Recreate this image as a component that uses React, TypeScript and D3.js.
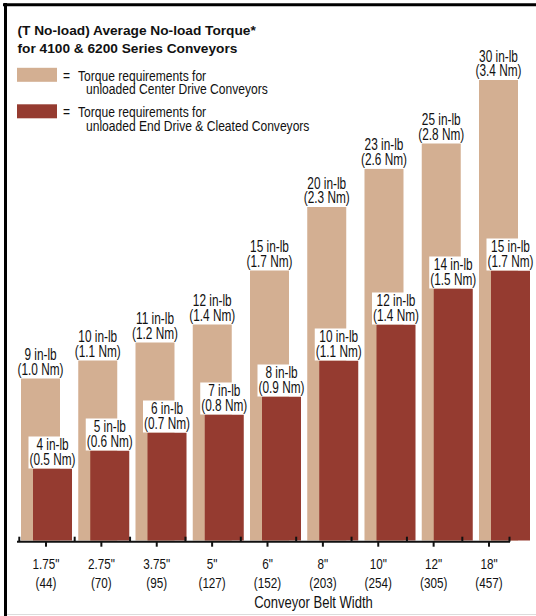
import React, { useEffect, useRef } from "react";
import * as d3 from "d3";

const categories = ['1.75"', '2.75"', '3.75"', '5"', '6"', '8"', '10"', '12"', '18"'];
const metricWidths = [44, 70, 95, 127, 152, 203, 254, 305, 457];
const centerDriveInLb = [9, 10, 11, 12, 15, 20, 23, 25, 30];
const centerDriveNm = [1.0, 1.1, 1.2, 1.4, 1.7, 2.3, 2.6, 2.8, 3.4];
const endDriveInLb = [4, 5, 6, 7, 8, 10, 12, 14, 15];
const endDriveNm = [0.5, 0.6, 0.7, 0.8, 0.9, 1.1, 1.4, 1.5, 1.7];
const titleLines = ["(T No-load) Average No-load Torque*", "for 4100 & 6200 Series Conveyors"];
const legendItems = [
  ["Torque requirements for", "unloaded Center Drive Conveyors"],
  ["Torque requirements for", "unloaded End Drive & Cleated Conveyors"],
];
const axisTitle = "Conveyor Belt Width";

const TAN = "#D3AF92";
const RED = "#953B30";
const FONT = "'Liberation Sans', Arial, sans-serif";

export default function App() {
  const ref = useRef<SVGSVGElement>(null);
  useEffect(() => {
    const svg = d3.select(ref.current);
    svg.selectAll("*").remove();
    const W = 536, H = 616;
    const baseY = 540.5;

    // condensed text helper (horizontal squeeze mimics a narrow face)
    const ntext = (parent: any, x: number, yy: number, size: number, sq: number, str: string, anchor = "start") =>
      parent.append("text")
        .attr("transform", `translate(${x},${yy}) scale(${sq},1)`)
        .attr("text-anchor", anchor)
        .attr("font-family", FONT).attr("font-size", size).attr("fill", "#111").text(str);

    // frame
    svg.append("line").attr("x1", 3).attr("x2", W).attr("y1", 4.8).attr("y2", 4.8)
      .attr("stroke", "#000").attr("stroke-width", 3);
    svg.append("line").attr("x1", 5.5).attr("x2", 5.5).attr("y1", 3).attr("y2", H)
      .attr("stroke", "#000").attr("stroke-width", 3);
    svg.append("line").attr("x1", 7).attr("x2", W).attr("y1", 614.5).attr("y2", 614.5)
      .attr("stroke", "#dcdcdc").attr("stroke-width", 1);

    // title
    titleLines.forEach((t, i) => {
      svg.append("text").attr("x", 17.5).attr("y", 35 + i * 18)
        .attr("font-family", FONT).attr("font-weight", "bold").attr("font-size", 13.7)
        .attr("fill", "#111").text(t);
    });

    // legend
    const legColors = [TAN, RED];
    legendItems.forEach((lines, i) => {
      const y0 = 67.8 + i * 36.5;
      svg.append("rect").attr("x", 17).attr("y", y0).attr("width", 40).attr("height", 14)
        .attr("fill", legColors[i]);
      ntext(svg, 63, y0 + 13, 15.5, 0.78, "=");
      ntext(svg, 78, y0 + 13, 15.5, 0.78, lines[0]);
      ntext(svg, 86, y0 + 26.3, 15.5, 0.78, lines[1]);
    });

    // scales
    const barW = 39;
    const xBars = d3.scaleBand<string>().domain(categories).range([21, 530]).paddingInner(0.109).paddingOuter(0);
    const offset = xBars.bandwidth() - barW;
    const y = d3.scaleLinear().domain([0, 15, 30]).range([baseY, 270.5, 80]);
    const xAxis = d3.scaleBand<string>().domain(categories).range([18.3, 516.7]);

    const LS = 16, LSQ = 0.74;
    const label = (cx: number, top: number, l1: string, l2: string, box: boolean) => {
      const g = svg.append("g");
      const r = g.append("rect").attr("fill", "#fff");
      const t1 = ntext(g, cx, top - 18.5, LS, LSQ, l1, "middle");
      const t2 = ntext(g, cx, top - 4, LS, LSQ, l2, "middle");
      if (box) {
        const w = LSQ * Math.max((t1.node() as SVGTextElement).getComputedTextLength(),
          (t2.node() as SVGTextElement).getComputedTextLength());
        r.attr("x", cx - w / 2 - 1).attr("width", w + 2).attr("y", top - 32).attr("height", 32);
      } else {
        r.remove();
      }
    };

    // center drive bars
    categories.forEach((c, i) => {
      const x0 = xBars(c)!;
      svg.append("rect").attr("x", x0).attr("y", y(centerDriveInLb[i]))
        .attr("width", barW).attr("height", baseY - y(centerDriveInLb[i])).attr("fill", TAN);
    });
    categories.forEach((c, i) => {
      const x0 = xBars(c)!;
      label(x0 + barW / 2, y(centerDriveInLb[i]), `${centerDriveInLb[i]} in-lb`,
        `(${centerDriveNm[i].toFixed(1)} Nm)`, false);
    });
    // end drive bars
    categories.forEach((c, i) => {
      const x0 = xBars(c)! + offset;
      svg.append("rect").attr("x", x0).attr("y", y(endDriveInLb[i]))
        .attr("width", barW).attr("height", baseY - y(endDriveInLb[i])).attr("fill", RED);
      label(x0 + barW / 2, y(endDriveInLb[i]), `${endDriveInLb[i]} in-lb`,
        `(${endDriveNm[i].toFixed(1)} Nm)`, true);
    });

    // axis
    const axY = 541.7;
    svg.append("line").attr("x1", 17).attr("x2", 510).attr("y1", axY).attr("y2", axY)
      .attr("stroke", "#111").attr("stroke-width", 2);
    const bounds = categories.map((c) => xAxis(c)! + 1);
    bounds.push(509.5);
    bounds.forEach((bx) => {
      svg.append("line").attr("x1", bx).attr("x2", bx).attr("y1", axY - 5).attr("y2", axY)
        .attr("stroke", "#111").attr("stroke-width", 2);
    });
    categories.forEach((c, i) => {
      const cx = xAxis(c)! + xAxis.bandwidth() / 2;
      svg.append("line").attr("x1", cx).attr("x2", cx).attr("y1", axY).attr("y2", axY + 5)
        .attr("stroke", "#111").attr("stroke-width", 2);
      ntext(svg, cx, 569, 15.4, 0.76, c, "middle");
      ntext(svg, cx, 588, 15.4, 0.76, `(${metricWidths[i]})`, "middle");
    });
    ntext(svg, 313.5, 607.5, 16.5, 0.79, axisTitle, "middle");
  }, []);
  return (
    <svg ref={ref} width={536} height={616}
      style={{ position: "absolute", left: 0, top: 0, background: "#fff" }} />
  );
}
